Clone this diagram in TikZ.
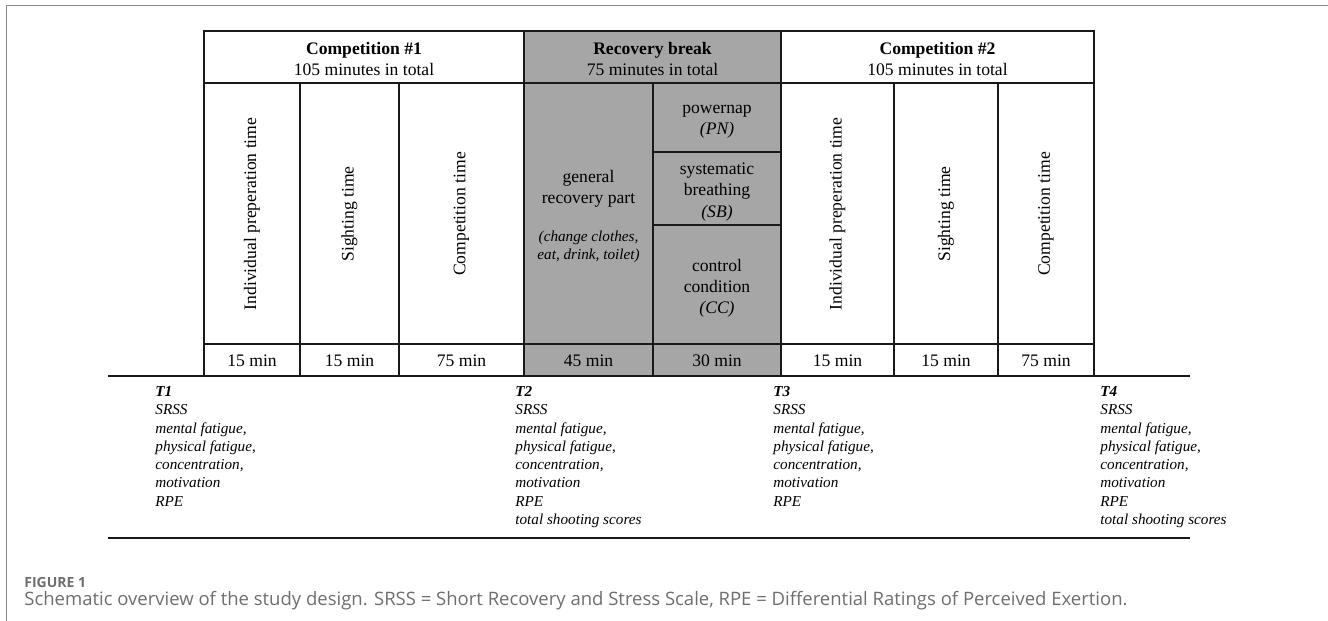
\documentclass[tikz,border=0pt]{standalone}
\usepackage{fontspec}
\setmainfont{Liberation Serif}
\newfontfamily\captionfont{Open Sans}
\usetikzlibrary{positioning}
\definecolor{breakGray}{RGB}{166,166,166}
\definecolor{ruleDark}{RGB}{25,25,25}
\definecolor{frameGray}{RGB}{135,135,135}
\definecolor{captionGray}{RGB}{110,110,110}
\newcommand{\smallit}{\fontsize{7.6}{9.15}\selectfont\itshape}

\begin{document}
\begin{tikzpicture}[
    x=0.5pt, y=-0.5pt,
    every node/.style={inner sep=0pt, font=\fontsize{8.8}{10.6}\selectfont},
    grid/.style={draw=ruleDark, line width=0.55pt},
    timeline/.style={draw=ruleDark, line width=0.9pt},
    head/.style={align=center},
    phase/.style={rotate=90},
    cellbox/.style={align=center},
    measures/.style={align=left, anchor=north west, font=\smallit}
  ]
    \useasboundingbox (0,0) rectangle (1328,621);
    % outer frame of the figure
    \draw[frameGray, line width=0.75pt] (6.5,621) -- (6.5,5.5) -- (1328,5.5);

    % recovery break block
    \fill[breakGray] (524,31) rectangle (781,376);

    % table grid
    \draw[grid] (204,31) rectangle (1094,376);
    \draw[grid] (204,83) -- (1094,83);
    \draw[grid] (204,344) -- (1094,344);
    \foreach \x in {300,399,524,653,781,894,998}
      \draw[grid] (\x,83) -- (\x,376);
    \draw[grid] (524,31) -- (524,83);
    \draw[grid] (781,31) -- (781,83);
    \draw[grid] (653,152) -- (781,152);
    \draw[grid] (653,225) -- (781,225);

    % headers
    \node[head] (comp1) at (364,59) {\textbf{Competition \#1}\\105 minutes in total};
    \node[head] (rbreak) at (652.5,59) {\textbf{Recovery break}\\75 minutes in total};
    \node[head] (comp2) at (937.5,59) {\textbf{Competition \#2}\\105 minutes in total};

    % phases
    \foreach \x/\t [count=\i] in {252/Individual preperation time, 349.5/Sighting time,
        461.5/Competition time, 837.5/Individual preperation time,
        946/Sighting time, 1046/Competition time}
      \node[phase] (phase\i) at (\x,214) {\t};

    \node[cellbox] (general) at (588.5,189) {general\\recovery part};
    \node[cellbox, font=\smallit] (gennote) at (588.5,247) {(change clothes,\\eat, drink, toilet)};
    \node[cellbox] (pn) at (717,122) {powernap\\\textit{(PN)}};
    \node[cellbox] (sb) at (717,192) {systematic\\breathing\\\textit{(SB)}};
    \node[cellbox] (cc) at (717,288) {control\\condition\\\textit{(CC)}};

    % durations
    \foreach \x/\t [count=\i] in {252/15 min, 349.5/15 min, 461.5/75 min, 588.5/45 min,
        717/30 min, 837.5/15 min, 946/15 min, 1046/75 min}
      \node (dur\i) at (\x,361) {\t};

    % time line and measurement points
    \coordinate (tl-start) at (108,376);
    \coordinate (tl-end) at (1190,376);
    \coordinate (bl-start) at (108,538);
    \coordinate (bl-end) at (1190,538);
    \draw[timeline] (tl-start) -- (tl-end);
    \draw[timeline] (bl-start) -- (bl-end);

    \node[measures] (t1) at (155,386) {\textbf{T1}\\SRSS\\mental fatigue,\\physical fatigue,\\concentration,\\motivation\\RPE};
    \node[measures] (t2) at (515,386) {\textbf{T2}\\SRSS\\mental fatigue,\\physical fatigue,\\concentration,\\motivation\\RPE\\total shooting scores};
    \node[measures] (t3) at (773,386) {\textbf{T3}\\SRSS\\mental fatigue,\\physical fatigue,\\concentration,\\motivation\\RPE};
    \node[measures] (t4) at (1100,386) {\textbf{T4}\\SRSS\\mental fatigue,\\physical fatigue,\\concentration,\\motivation\\RPE\\total shooting scores};

    % caption
    \node[anchor=base west, text=captionGray, font=\captionfont\bfseries\fontsize{7}{8.5}\selectfont] (figlabel) at (24,587) {FIGURE 1};
    \node[anchor=base west, text=captionGray, font=\captionfont\fontsize{9.25}{11}\selectfont] (caption) at (24,605) {Schematic overview of the study design. SRSS = Short Recovery and Stress Scale, RPE = Differential Ratings of Perceived Exertion.};
  \end{tikzpicture}
\end{document}
